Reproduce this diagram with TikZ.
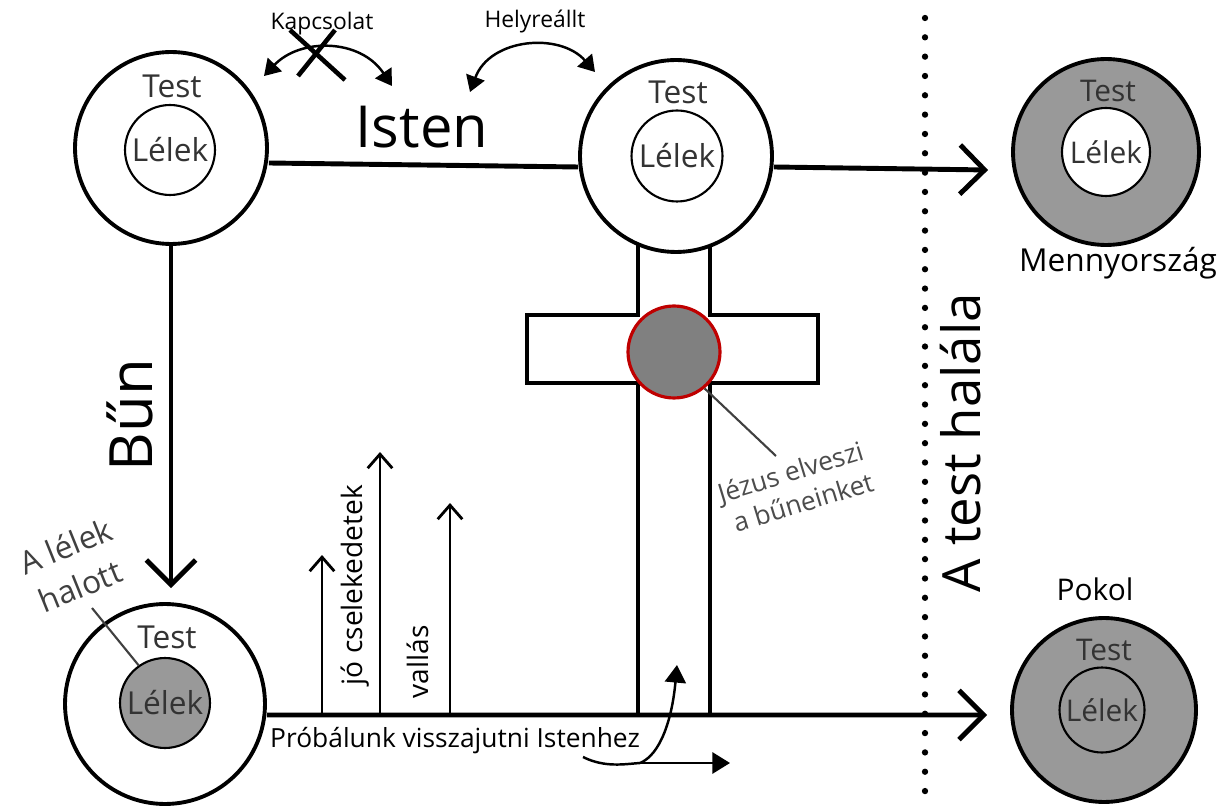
\documentclass[tikz,border=0pt]{standalone}
\usepackage{fontspec}
\setmainfont{Open Sans}
\usetikzlibrary{arrows.meta,backgrounds}
\begin{document}
\begin{tikzpicture}[x=0.02cm,y=-0.02cm,
  ring/.style={circle, draw=black, line width=2.2pt, fill=white, minimum size=#1, inner sep=0pt},
  soul/.style={circle, draw=black, line width=1.2pt, fill=white, minimum size=#1, inner sep=0pt, font=\fontsize{18}{20}\selectfont, text=black!80},
  greyring/.style={ring=#1, fill=black!40},
  lbl/.style={font=\fontsize{18}{20}\selectfont, text=black!80},
  small/.style={font=\fontsize{13}{15}\selectfont},
  big/.style={line width=2.8pt, -{Straight Barb[length=14pt,width=28pt,line width=2.8pt]}},
  thinup/.style={line width=1.6pt, -{Straight Barb[length=8pt,width=14pt,line width=1.6pt]}},
  tri/.style={line width=1.4pt, {Triangle[length=9pt,width=11pt]}-{Triangle[length=9pt,width=11pt]}},
  crossline/.style={line width=2.2pt, line join=miter},
  jtext/.style={font=\fontsize{15}{17}\selectfont, text=black!70, rotate=17, inner sep=1pt},
  dtext/.style={font=\fontsize{18}{20}\selectfont, text=black!75, rotate=22, inner sep=1pt}
]
\useasboundingbox (0,0) rectangle (1223,810);

% cross
\draw[crossline, fill=white] (638,245) -- (638,315) -- (527,315) -- (527,383) -- (638,383) -- (638,715) -- (710,715) -- (710,383) -- (818,383) -- (818,315) -- (710,315) -- (710,245) -- cycle;

% circles
\node[ring=3.84cm] (c1) at (171,148) {};
\node[soul=1.8cm] (c1in) at (170,150) {Lélek};
\node[lbl] (c1t) at (172,86) {Test};

\node[ring=3.84cm] (c2) at (676,156) {};
\node[soul=1.82cm] (c2in) at (677,156) {Lélek};
\node[lbl] (c2t) at (678,92) {Test};

\node[ring=4.0cm] (c3) at (165,704) {};
\node[soul=1.8cm, fill=black!40] (c3in) at (165,703) {Lélek};
\node[lbl] (c3t) at (167,637) {Test};

\node[greyring=3.72cm] (heaven) at (1106,152) {};
\node[soul=1.76cm, font=\fontsize{17}{19}\selectfont] (heavenin) at (1106,152) {Lélek};
\node[lbl, font=\fontsize{17}{19}\selectfont] (heavent) at (1108,91) {Test};
\node[font=\fontsize{18}{20}\selectfont] (heavenlbl) at (1118,263) {Mennyország};

\node[greyring=3.68cm] (hell) at (1104,710) {};
\node[soul=1.7cm, fill=black!40, font=\fontsize{17}{19}\selectfont] (hellin) at (1102,710) {Lélek};
\node[lbl, font=\fontsize{17}{19}\selectfont] (hellt) at (1104,650) {Test};
\node[font=\fontsize{17}{19}\selectfont] (helllbl) at (1095,589) {Pokol};

% red circle on cross
\node[circle, draw=red!75!black, line width=1.8pt, fill=black!50, minimum size=1.84cm, inner sep=0pt] (jesus) at (674,352) {};

% main arrows
\begin{scope}[on background layer]
\draw[line width=2.8pt] ([yshift=-0.3cm]c1.east) -- ([yshift=-0.22cm]c2.west);
\end{scope}
\draw[big] ([yshift=-0.22cm]c2.east) -- ([xshift=-0.46cm,yshift=-0.36cm]heaven.west);
\draw[big] (c1.south) -- ([yshift=0.28cm]c1.south |- c3.north);
\draw[big] ([yshift=-0.22cm]c3.east) -- ([xshift=-0.46cm,yshift=-0.1cm]hell.west);

% labels on main lines
\node[font=\fontsize{33}{36}\selectfont] (isten) at (422,127) {Isten};
\node[font=\fontsize{34}{38}\selectfont, rotate=90] (bun) at (130,415) {Bűn};
\node[font=\fontsize{30}{34}\selectfont, rotate=90] (halal) at (961,443) {A test halála};

% dotted line
\coordinate (dtop) at (925,18);
\coordinate (dbot) at (925,810);
\draw[line width=3.6pt, line cap=round, dash pattern=on 0pt off 11pt] (dtop) -- (dbot);

% top curved arrows
\node[small] (kap) at (322,24) {Kapcsolat};
\coordinate (k1) at (264,76);
\coordinate (k2) at (392,86);
\draw[tri] (k1) .. controls (300,38) and (360,38) .. (k2);
\coordinate (x1) at (290,30);
\coordinate (x2) at (345,80);
\coordinate (x3) at (335,30);
\coordinate (x4) at (298,76);
\draw[line width=2.6pt] (x1) -- (x2);
\draw[line width=2.6pt] (x3) -- (x4);

\node[small] (hely) at (535,22) {Helyreállt};
\coordinate (h1) at (470,92);
\coordinate (h2) at (595,72);
\draw[tri] (h1) .. controls (490,38) and (560,32) .. (h2);

% up arrows
\coordinate (u1b) at (322,715); \coordinate (u1t) at (322,555);
\coordinate (u2b) at (380,715); \coordinate (u2t) at (380,452);
\coordinate (u3b) at (450,715); \coordinate (u3t) at (450,503);
\draw[thinup] (u1b) -- (u1t);
\draw[thinup] (u2b) -- (u2t);
\draw[thinup] (u3b) -- (u3t);
\node[font=\fontsize{16}{18}\selectfont, rotate=90] (jo) at (355,585) {jó cselekedetek};
\node[font=\fontsize{16}{18}\selectfont, rotate=90] (vallas) at (418,662) {vallás};

\node[font=\fontsize{15}{17}\selectfont] (prob) at (455,741) {Próbálunk visszajutni Istenhez};

% fork arrow at bottom
\coordinate (f0) at (583,757);
\coordinate (f1) at (640,763);
\coordinate (f2) at (677,665);
\coordinate (f3) at (730,763);
\draw[line width=1.4pt] (f0) .. controls (605,768) and (625,764) .. (f1);
\draw[line width=1.4pt, -{Triangle[length=10pt,width=12pt]}] (f1) .. controls (660,755) and (672,720) .. (f2);
\draw[line width=1.4pt, -{Triangle[length=10pt,width=12pt]}] (f1) -- (f3);

% Jesus label
\node[jtext] (jl1) at (791,474) {Jézus elveszi};
\node[jtext] (jl2) at (803,502) {a bűneinket};
\coordinate (jend) at (776,456);
\draw[line width=1.2pt, black!75] (jesus.-50) -- (jend);

% dead soul label
\node[dtext] (dl1) at (66,546) {A lélek};
\node[dtext] (dl2) at (80,586) {halott};
\coordinate (dstart) at (92,608);
\draw[line width=1.2pt, black!75] (dstart) -- (c3in.125);
\end{tikzpicture}
\end{document}
